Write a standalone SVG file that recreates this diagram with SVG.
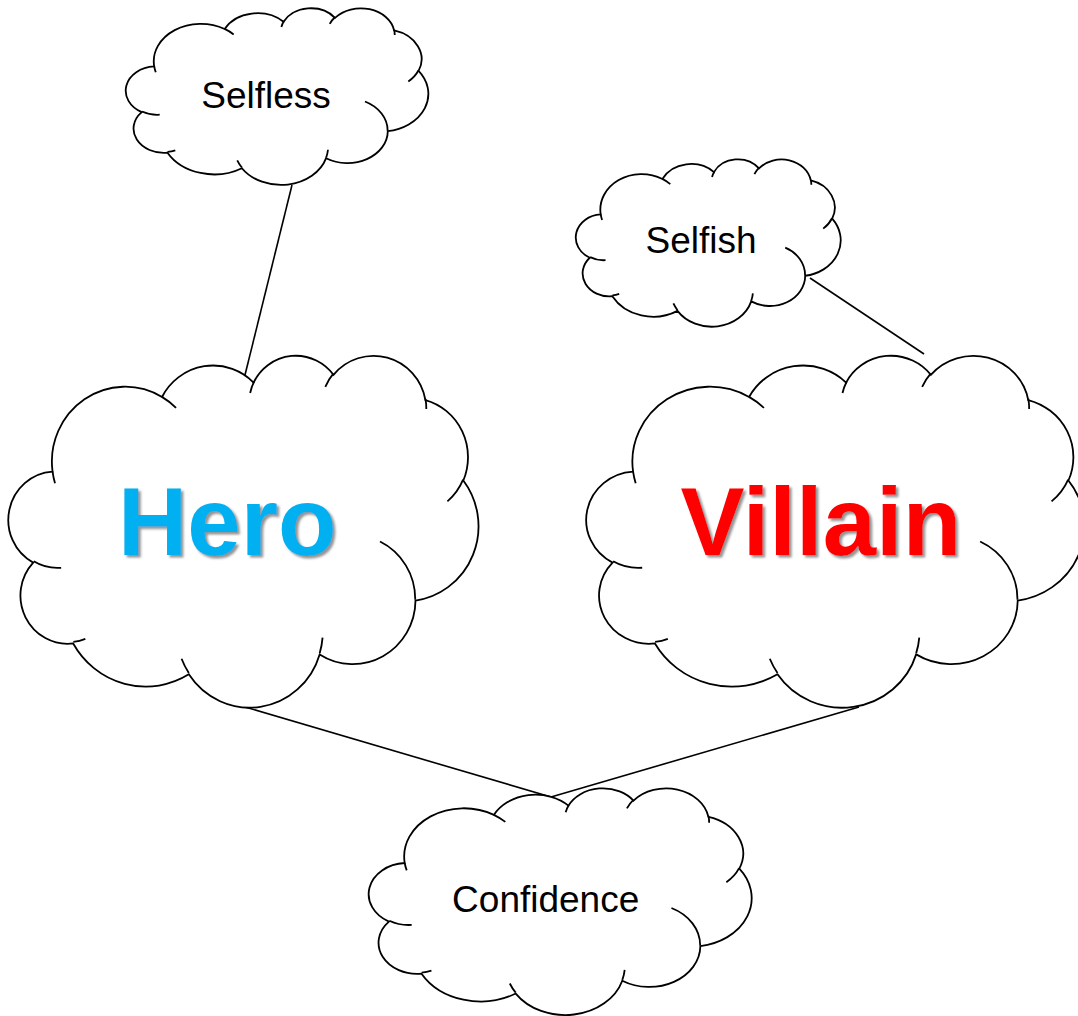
<svg xmlns="http://www.w3.org/2000/svg" width="1078" height="1016" viewBox="0 0 1078 1016">
  <style>
    .cloud { fill: #ffffff; stroke: #000000; stroke-width: 1.8; vector-effect: non-scaling-stroke; }
    .inner { fill: none; stroke: #000000; stroke-width: 1.8; vector-effect: non-scaling-stroke; }
    .conn { stroke: #000000; stroke-width: 1.6; fill: none; }
    .lbl { font-family: "Liberation Sans", Arial, sans-serif; font-size: 37px; fill: #000000; text-anchor: middle; }
    .big { font-family: "Liberation Sans", Arial, sans-serif; font-size: 96px; font-weight: bold; text-anchor: middle; filter: url(#ts); }
  </style>
  <defs>
    <filter id="ts" x="-10%" y="-20%" width="130%" height="150%">
      <feDropShadow dx="2.5" dy="2.5" stdDeviation="0.8" flood-color="#808080" flood-opacity="0.85"/>
    </filter>
    <g id="cloud">
      <path class="cloud" d="M3900,14370 A6753,9190 0 0 1 14005,5202 A5333,7267 0 0 1 22456,3432 A4365,5945 0 0 1 29833,2481 A4857,6595 0 0 1 38318,5576 A5333,7273 0 0 1 41819,15460 A6775,9220 0 0 1 37404,30203 A5785,7867 0 0 1 28556,36813 A6752,9215 0 0 1 16480,39264 A7720,10543 0 0 1 5805,35470 A4360,5918 0 0 1 2113,25548 A4345,5945 0 0 1 3900,14370 Z"/>
      <path class="inner" d="M4693,26177 A4345,5945 0 0 1 2160,25380 M6928,34899 A4360,5918 0 0 1 5820,35281 M16478,39090 A6752,9215 0 0 1 15810,37350 M28827,34751 A6752,9215 0 0 1 28560,36660 M34129,22954 A5785,7867 0 0 1 37380,30090 M41798,15354 A5333,7273 0 0 1 40350,18030 M38324,5426 A4857,6595 0 0 1 38400,6690 M29078,3952 A4857,6595 0 0 1 29820,2340 M22141,4720 A4365,5945 0 0 1 22500,3330 M14000,5192 A6753,9190 0 0 1 15300,6540 M4127,15789 A6753,9190 0 0 1 3900,14370"/>
    </g>
  </defs>

  <g id="connectors">
    <line class="conn" x1="292" y1="185" x2="245" y2="375"/>
    <line class="conn" x1="810" y1="278" x2="924" y2="354"/>
    <line class="conn" x1="245" y1="707" x2="551" y2="797"/>
    <line class="conn" x1="859" y1="707" x2="551" y2="797"/>
  </g>

  <g id="node-selfless">
    <use href="#cloud" transform="translate(127,7.7) scale(0.0069722,0.0040880)"/>
    <text class="lbl" x="266" y="107.8">Selfless</text>
  </g>

  <g id="node-selfish">
    <use href="#cloud" transform="translate(576.9,158.8) scale(0.0061042,0.0038727)"/>
    <text class="lbl" x="701" y="252.5">Selfish</text>
  </g>

  <g id="node-hero">
    <use href="#cloud" transform="translate(10.3,354.6) scale(0.010833,0.0081435)"/>
    <text class="big" x="227.3" y="554.5" style="fill:#00B0F0">Hero</text>
  </g>

  <g id="node-villain">
    <use href="#cloud" transform="translate(588.3,354.6) scale(0.011481,0.0081435)"/>
    <text class="big" x="820.9" y="554.5" style="fill:#FF0000">Villain</text>
  </g>

  <g id="node-confidence">
    <use href="#cloud" transform="translate(370.3,787.6) scale(0.0088241,0.0052454)"/>
    <text class="lbl" x="545.7" y="911.5">Confidence</text>
  </g>
</svg>
